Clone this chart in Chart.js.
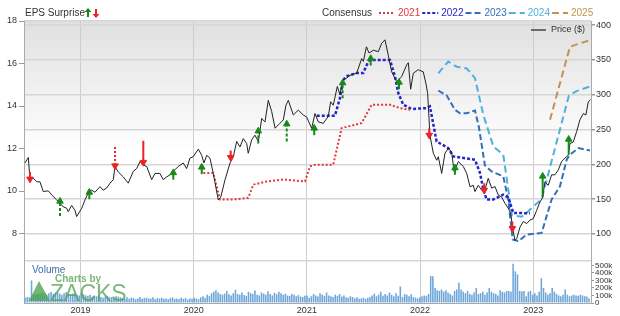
<!DOCTYPE html>
<html>
<head>
<meta charset="utf-8">
<script src="https://cdn.jsdelivr.net/npm/chart.js@4.4.0/dist/chart.umd.min.js"></script>
<style>
html, body { margin: 0; padding: 0; background: #fff; }
</style>
</head>
<body>
<canvas id="myChart" width="620" height="316"></canvas>
<script>
// time is in decimal years
var yearTicks = [2019, 2020, 2021, 2022, 2023];
var epsTicks = [8, 10, 12, 14, 16, 18];
var priceTicks = [100, 150, 200, 250, 300, 350, 400];
var volTicks = [0, 100000, 200000, 300000, 400000, 500000];

// price ($), right axis
var priceT = [2018.510, 2018.539, 2018.554, 2018.583, 2018.613, 2018.642, 2018.671, 2018.716, 2018.746, 2018.790, 2018.819, 2018.848, 2018.878, 2018.892, 2018.922, 2018.951, 2018.966,
  2019.011, 2019.040, 2019.069, 2019.099, 2019.128, 2019.172, 2019.201, 2019.231, 2019.261, 2019.290, 2019.305, 2019.334, 2019.378, 2019.422, 2019.466, 2019.496, 2019.526, 2019.555, 2019.585, 2019.629, 2019.658, 2019.702, 2019.731, 2019.761, 2019.791, 2019.820, 2019.864, 2019.908, 2019.938, 2019.967, 2019.996,
  2020.041, 2020.071, 2020.091, 2020.115, 2020.144, 2020.173, 2020.217, 2020.239, 2020.277, 2020.321, 2020.350, 2020.380, 2020.409, 2020.438, 2020.468, 2020.482, 2020.512, 2020.541, 2020.571, 2020.601, 2020.630, 2020.659, 2020.689, 2020.719, 2020.762, 2020.792, 2020.815, 2020.836, 2020.880, 2020.924, 2020.968, 2020.998,
  2021.042, 2021.072, 2021.101, 2021.145, 2021.189, 2021.210, 2021.233, 2021.269, 2021.292, 2021.316, 2021.352, 2021.381, 2021.440, 2021.484, 2021.499, 2021.526, 2021.549, 2021.587, 2021.631, 2021.661, 2021.690, 2021.719, 2021.749, 2021.793, 2021.837, 2021.882, 2021.896, 2021.917, 2021.940, 2021.984,
  2022.028, 2022.052, 2022.067, 2022.087, 2022.117, 2022.147, 2022.161, 2022.191, 2022.220, 2022.249, 2022.279, 2022.300, 2022.338, 2022.382, 2022.412, 2022.441, 2022.470, 2022.485, 2022.514, 2022.544, 2022.573, 2022.602, 2022.632, 2022.662, 2022.691, 2022.721, 2022.750, 2022.779, 2022.800, 2022.818, 2022.838, 2022.853, 2022.883, 2022.912, 2022.942, 2022.971,
  2023.000, 2023.030, 2023.059, 2023.083, 2023.103, 2023.132, 2023.162, 2023.191, 2023.221, 2023.250, 2023.280, 2023.309, 2023.324, 2023.353, 2023.383, 2023.412, 2023.442, 2023.465, 2023.486, 2023.505];
var priceV = [202, 210, 178, 180, 175, 175, 161, 162, 156, 149, 144, 139, 137, 132, 141, 134, 125,
  137, 149, 159, 163, 160, 168, 163, 166, 173, 178, 197, 189, 182, 173, 190, 194, 204, 199, 197, 178, 187, 187, 178, 182, 185, 190, 197, 202, 194, 209, 211,
  222, 213, 202, 213, 209, 187, 149, 153, 178, 202, 211, 233, 225, 237, 230, 216, 235, 242, 233, 266, 261, 292, 276, 252, 259, 264, 285, 292, 271, 278, 271, 268,
  252, 273, 261, 259, 269, 290, 285, 312, 300, 321, 324, 328, 331, 352, 348, 369, 360, 364, 362, 374, 379, 357, 333, 319, 326, 343, 346, 308, 331, 336,
  333, 316, 302, 242, 216, 206, 211, 187, 216, 223, 218, 190, 204, 197, 187, 168, 170, 161, 170, 163, 163, 180, 166, 168, 156, 153, 144, 137, 130, 108, 91, 93, 110, 118, 115, 120,
  122, 134, 146, 152, 175, 170, 185, 185, 192, 204, 209, 213, 230, 232, 247, 264, 273, 271, 290, 293];

// consensus EPS, left axis
var c2021T = [2020.085, 2020.173, 2020.232, 2020.350, 2020.482, 2020.527, 2020.645, 2020.792, 2020.983, 2021.027, 2021.072, 2021.233, 2021.307, 2021.484, 2021.572, 2021.734, 2021.822, 2021.911];
var c2021Y = [10.85, 10.85, 9.6, 9.6, 9.68, 10.3, 10.45, 10.54, 10.45, 11.16, 11.24, 11.24, 12.96, 13.2, 14.06, 14.06, 13.9, 13.82];
var c2022T = [2021.087, 2021.248, 2021.292, 2021.319, 2021.345, 2021.440, 2021.498, 2021.542, 2021.557, 2021.734, 2021.778, 2021.808, 2021.852, 2021.925, 2022.058, 2022.087, 2022.146, 2022.249, 2022.293, 2022.485, 2022.529, 2022.559, 2022.588, 2022.647, 2022.735, 2022.777, 2022.824, 2022.971];
var c2022Y = [13.54, 13.54, 14.37, 15.2, 15.39, 15.55, 15.55, 16.09, 16.17, 16.17, 15.39, 14.6, 14.06, 13.86, 13.9, 13.98, 12.33, 12.02, 11.63, 11.47, 10.86, 10.06, 9.6, 9.6, 9.83, 9.7, 8.97, 8.95];
var c2023T = [2022.161, 2022.235, 2022.308, 2022.353, 2022.412, 2022.485, 2022.520, 2022.573, 2022.632, 2022.735, 2022.779, 2022.818, 2022.868, 2022.942, 2023.074, 2023.162, 2023.236, 2023.295, 2023.324, 2023.398, 2023.501];
var c2023Y = [14.73, 14.5, 13.82, 13.66, 13.66, 13.79, 13.0, 11.2, 10.92, 10.69, 9.6, 7.72, 7.64, 7.95, 8.03, 9.6, 10.22, 11.47, 11.71, 12.02, 11.91];
var c2024T = [2022.161, 2022.249, 2022.323, 2022.412, 2022.485, 2022.558, 2022.647, 2022.735, 2022.812, 2022.897, 2022.956, 2023.074, 2023.315, 2023.383, 2023.501];
var c2024Y = [15.54, 16.09, 15.85, 15.77, 15.31, 13.6, 12.1, 11.71, 8.85, 8.79, 9.05, 9.62, 14.5, 14.7, 14.92];
var c2025T = [2023.148, 2023.324, 2023.501];
var c2025Y = [13.35, 16.79, 17.1];

// EPS surprise arrows (price units): head = arrow head, tail = end of stem
var surpriseT = [2018.554, 2018.819, 2019.078, 2019.305, 2019.555, 2019.820, 2020.071, 2020.327, 2020.571, 2020.822, 2021.065, 2021.316, 2021.564, 2021.814, 2022.081, 2022.308, 2022.567, 2022.815, 2023.083, 2023.313];
var surpriseHead = [179, 147, 160, 198, 203, 188, 196, 210, 248, 258, 252, 317, 352, 318, 242, 195, 163, 108, 183, 236];
var surpriseTail = [189, 126, 150, 225, 234, 178, 186, 220, 230, 233, 242, 295, 342, 308, 252, 185, 173, 118, 154, 214];
var surpriseStem = ['solid', 'dash', 'solid', 'dot', 'solid', 'solid', 'solid', 'solid', 'dash', 'dash', 'solid', 'dash', 'solid', 'solid', 'solid', 'solid', 'solid', 'solid', 'solid', 'solid'];

// weekly volume (thousands)
var volStart = 2018.510;
var volK = [70, 80, 75, 300, 120,
  110, 130, 120, 140, 125, 110, 130, 150, 120, 135, 140, 125, 110, 130, 145, 120, 115, 125, 130, 110, 100,
  130, 115, 100, 95, 110, 85, 100, 90, 105, 80, 70, 85, 95, 75, 80, 70, 90, 85, 75, 65,
  60, 75, 55, 70, 65, 50, 60, 80, 55, 65, 70, 60, 55, 75, 50, 65, 60, 70, 55, 60, 50, 65, 75, 55, 60, 50, 70, 55, 65, 45, 60, 55, 70,
  60, 50, 75, 90, 70, 110, 95, 130, 150, 170, 140, 120, 110, 125, 160, 115, 100, 130, 175, 120, 110, 140, 105, 95, 150, 130, 120, 165, 110, 100,
  140, 125, 110, 155, 120, 100, 135, 115, 150, 130, 110, 125, 100, 95, 120, 110, 90, 105, 85, 80, 95, 100,
  70, 90, 120, 100, 85, 130, 110, 95, 140, 100, 90, 80, 110, 95, 120, 85, 100, 75, 70, 90, 80, 60, 75, 55, 60, 70, 55, 65, 80, 100,
  125, 90, 110, 150, 95, 120, 100, 140, 110, 90, 130, 95, 220, 80, 120, 110, 90, 115, 80, 70, 60, 75,
  90, 100, 95, 120, 360, 355, 200, 170, 160, 180, 150, 170, 140, 120, 100, 160, 180, 270, 180, 150, 130, 160, 120, 110, 140, 200, 120, 130, 150, 110,
  140, 200, 150, 130, 120, 100, 170, 150, 140, 160, 160, 150, 520, 420, 380, 160, 155, 160, 90, 150, 160, 110,
  130, 100, 150, 330, 200, 140, 110, 130, 200, 150, 120, 100, 90, 110, 180, 110, 90, 100, 110, 100, 95, 110, 100, 90, 85, 60];

var FONT = "'Liberation Sans', Arial, sans-serif";
Chart.defaults.font.family = FONT;
Chart.defaults.color = '#333';

function pts(t, v) {
    return t.map(function (x, i) { return { x: x, y: v[i] }; });
}

var consensus = [
    { label: '2021', t: c2021T, y: c2021Y, color: '#e2383b', dash: [2, 2], width: 2 },
    { label: '2022', t: c2022T, y: c2022Y, color: '#2424cc', dash: [3, 2], width: 2.5 },
    { label: '2023', t: c2023T, y: c2023Y, color: '#3370b6', dash: [6, 3], width: 2 },
    { label: '2024', t: c2024T, y: c2024Y, color: '#4fb0dc', dash: [7, 4], width: 2 },
    { label: '2025', t: c2025T, y: c2025Y, color: '#c4924c', dash: [7, 4], width: 2 }
];

var datasets = [];

// arrow heads
var headPts = [], headColors = [], headRot = [];
surpriseT.forEach(function (t, i) {
    var up = surpriseHead[i] > surpriseTail[i];
    headPts.push({ x: t, y: surpriseHead[i] });
    headColors.push(up ? '#17891b' : '#ee2222');
    headRot.push(up ? 0 : 180);
});
datasets.push({
    type: 'scatter', label: 'heads', data: headPts, yAxisID: 'yPrice', order: 0,
    pointStyle: 'triangle', pointRadius: 3.8, pointRotation: headRot,
    backgroundColor: headColors, borderColor: headColors, borderWidth: 1
});

// arrow stems
surpriseT.forEach(function (t, i) {
    var up = surpriseHead[i] > surpriseTail[i];
    var dash = surpriseStem[i] === 'dot' ? [2, 2] : (surpriseStem[i] === 'dash' ? [3, 2] : []);
    datasets.push({
        type: 'line', label: 'stem', data: [{ x: t, y: surpriseTail[i] }, { x: t, y: surpriseHead[i] }],
        yAxisID: 'yPrice', order: 1, borderColor: up ? '#17891b' : '#ee2222',
        borderWidth: 2, borderDash: dash, pointRadius: 0
    });
});

datasets.push({
    type: 'line', label: 'Price ($)', data: pts(priceT, priceV), yAxisID: 'yPrice', order: 2,
    borderColor: '#222', borderWidth: 1, pointRadius: 0, tension: 0
});

consensus.forEach(function (c) {
    datasets.push({
        type: 'line', label: c.label, data: pts(c.t, c.y), yAxisID: 'yEps', order: 3,
        borderColor: c.color, borderWidth: c.width, borderDash: c.dash, pointRadius: 0, tension: 0
    });
});

datasets.push({
    type: 'bar', label: 'Volume', yAxisID: 'yVol', order: 4,
    data: volK.map(function (v, i) { return { x: volStart + i * 7 / 365.25, y: v * 1000 }; }),
    backgroundColor: '#6ea6d9', barPercentage: 0.72, categoryPercentage: 1
});

function arrowGlyph(ctx, x, y, up, color) {
    var s = up ? 1 : -1;
    ctx.fillStyle = color;
    ctx.beginPath();
    ctx.moveTo(x, y - 5 * s);
    ctx.lineTo(x + 3.5, y - 1 * s);
    ctx.lineTo(x - 3.5, y - 1 * s);
    ctx.closePath();
    ctx.fill();
    ctx.fillRect(x - 1, up ? y - 1 : y - 4, 2, 5);
}

var decor = {
    id: 'decor',
    beforeDraw: function (chart) {
        var ctx = chart.ctx, a = chart.chartArea, yp = chart.scales.yPrice;
        ctx.save();
        ctx.fillStyle = '#fff';
        ctx.fillRect(0, 0, chart.width, chart.height);
        var g = ctx.createLinearGradient(0, a.top, 0, yp.bottom);
        g.addColorStop(0, '#e0e0e0');
        g.addColorStop(0.55, '#ffffff');
        ctx.fillStyle = g;
        ctx.fillRect(a.left, a.top, a.right - a.left, yp.bottom - a.top);
        ctx.restore();
    },
    afterDatasetsDraw: function (chart) {
        var ctx = chart.ctx;
        ctx.save();
        // watermark
        ctx.fillStyle = 'rgba(70,160,70,0.75)';
        ctx.beginPath();
        ctx.moveTo(29, 301); ctx.lineTo(39, 281); ctx.lineTo(50, 301);
        ctx.closePath();
        ctx.fill();
        ctx.font = 'bold 10px ' + FONT;
        ctx.fillStyle = 'rgba(90,165,90,0.8)';
        ctx.textBaseline = 'alphabetic';
        ctx.fillText('Charts by', 55, 282);
        ctx.font = '23px ' + FONT;
        ctx.fillStyle = 'rgba(80,160,80,0.75)';
        ctx.fillText('ZACKS', 50, 301);
        ctx.font = '10px ' + FONT;
        ctx.fillStyle = '#3e6db0';
        ctx.fillText('Volume', 32, 273);
        ctx.restore();
    },
    afterDraw: function (chart) {
        var ctx = chart.ctx;
        ctx.save();
        ctx.font = '10px ' + FONT;
        ctx.textBaseline = 'middle';
        ctx.fillStyle = '#333';
        ctx.fillText('EPS Surprise', 25, 13);
        arrowGlyph(ctx, 88, 13, true, '#17891b');
        arrowGlyph(ctx, 96, 13, false, '#ee2222');
        ctx.fillStyle = '#333';
        ctx.fillText('Consensus', 322, 13);
        var x = 379;
        consensus.forEach(function (c) {
            ctx.strokeStyle = c.color;
            ctx.lineWidth = 2;
            ctx.setLineDash(c.dash);
            ctx.beginPath();
            ctx.moveTo(x, 13);
            ctx.lineTo(x + 16, 13);
            ctx.stroke();
            x += 19;
            ctx.fillStyle = c.color;
            ctx.fillText(c.label, x, 13);
            x += ctx.measureText(c.label).width + 2;
        });
        // price legend in the plot
        ctx.setLineDash([]);
        ctx.strokeStyle = '#444';
        ctx.lineWidth = 1.5;
        ctx.beginPath();
        ctx.moveTo(531, 30);
        ctx.lineTo(546, 30);
        ctx.stroke();
        ctx.font = '9px ' + FONT;
        ctx.fillStyle = '#333';
        ctx.fillText('Price ($)', 551, 30);
        ctx.restore();
    }
};

function setTicks(list) {
    return function (scale) { scale.ticks = list.map(function (v) { return { value: v }; }); };
}

var canvas = document.getElementById('myChart');
var myChart = new Chart(canvas, {
    type: 'line',
    data: { datasets: datasets },
    plugins: [decor],
    options: {
        responsive: false,
        animation: false,
        events: [],
        layout: { padding: { top: 21, left: 0, right: 0, bottom: 0 } },
        plugins: { legend: { display: false }, tooltip: { enabled: false } },
        scales: {
            x: {
                type: 'linear', min: 2018.501, max: 2023.51, offset: false,
                afterBuildTicks: setTicks(yearTicks),
                afterFit: function (s) { s.height = 13; },
                ticks: { callback: function (v) { return String(v); }, font: { size: 9 }, color: '#333', padding: 2, maxRotation: 0, autoSkip: false },
                grid: { color: '#cdcdcd', lineWidth: 1, drawTicks: false, offset: false },
                border: { color: '#aaa' }
            },
            yEps: {
                type: 'linear', position: 'left', min: 4.73, max: 18,
                afterBuildTicks: setTicks(epsTicks),
                afterFit: function (s) { s.width = 24; },
                ticks: { font: { size: 9 }, color: '#333', padding: 2, autoSkip: false },
                grid: { drawOnChartArea: false, tickLength: 5, tickColor: '#999' },
                border: { color: '#aaa' }
            },
            yPrice: {
                type: 'linear', position: 'right', stack: 'right', stackWeight: 240,
                min: 61.2, max: 406,
                afterBuildTicks: function (s) {
                    s.ticks = [s.min].concat(priceTicks, [s.max]).map(function (v) { return { value: v }; });
                },
                afterFit: function (s) { s.width = 29; },
                ticks: {
                    callback: function (v) { return priceTicks.indexOf(v) >= 0 ? String(v) : ''; },
                    font: { size: 9 }, color: '#333', padding: 1, autoSkip: false
                },
                grid: {
                    color: '#d6d6d6', lineWidth: 1.5, tickLength: 4,
                    tickColor: function (c) { return c.tick && priceTicks.indexOf(c.tick.value) >= 0 ? '#999' : 'rgba(0,0,0,0)'; }
                },
                border: { color: '#aaa' }
            },
            yVol: {
                type: 'linear', position: 'right', stack: 'right', stackWeight: 42,
                min: 0, max: 558000,
                afterBuildTicks: setTicks(volTicks),
                afterFit: function (s) { s.width = 29; },
                ticks: {
                    callback: function (v) { return v === 0 ? '0' : (v / 1000) + 'k'; },
                    font: { size: 8 }, color: '#333', padding: 1, autoSkip: false
                },
                grid: { drawOnChartArea: false, tickLength: 3, tickColor: '#999' },
                border: { color: '#aaa' }
            }
        }
    }
});
</script>
</body>
</html>
